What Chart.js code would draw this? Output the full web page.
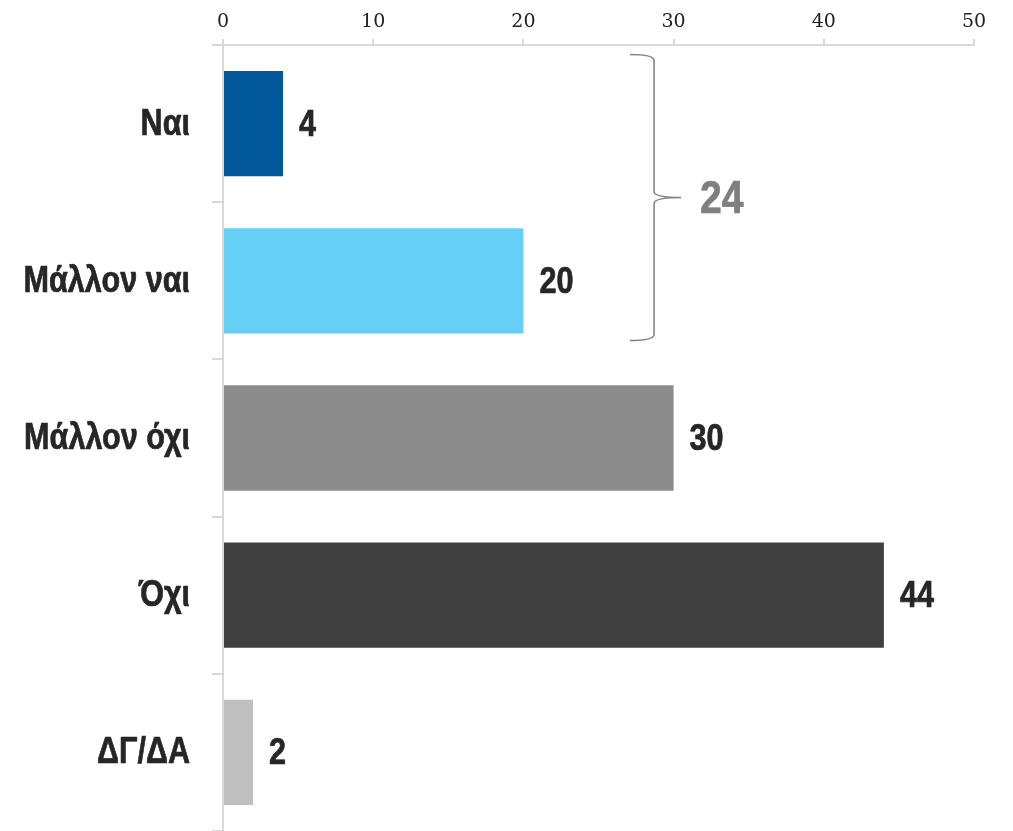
<!DOCTYPE html>
<html>
<head>
<meta charset="utf-8">
<script src="https://cdn.jsdelivr.net/npm/chart.js@4.4.1/dist/chart.umd.min.js"></script>
<style>
html,body{margin:0;padding:0;background:#fff;}
#wrap{width:1013px;height:831px;position:relative;}
</style>
</head>
<body>
<div id="wrap"><canvas id="c" width="1013" height="831"></canvas></div>
<script>
const categories = ["Ναι", "Μάλλον ναι", "Μάλλον όχι", "Όχι", "ΔΓ/ΔΑ"];
const values = [4, 20, 30, 44, 2];
const barColors = ["#00589B", "#66CFF5", "#8C8C8C", "#404040", "#BFBFBF"];
const xTicks = [0, 10, 20, 30, 40, 50];
const bracketGroup = [0, 1];
const bracketTotal = bracketGroup.reduce((s, i) => s + values[i], 0);

const SANS = '"Liberation Sans", Arial, sans-serif';
const NARROW_SCALE = 0.85;

function narrowText(ctx, text, x, y, align, font, color) {
  ctx.save();
  ctx.font = font;
  ctx.fillStyle = color;
  ctx.strokeStyle = color;
  ctx.lineWidth = 0.7;
  ctx.lineJoin = 'round';
  ctx.textBaseline = 'middle';
  ctx.textAlign = align;
  ctx.translate(x, y);
  ctx.scale(NARROW_SCALE, 1);
  ctx.fillText(text, 0, 0);
  ctx.strokeText(text, 0, 0);
  ctx.restore();
}

const categoryLabels = {
  id: 'categoryLabels',
  afterDraw(chart) {
    const ctx = chart.ctx;
    const ys = chart.scales.y;
    const right = ys.right - 11 - 22;
    categories.forEach((c, i) => {
      narrowText(ctx, c, right, ys.getPixelForValue(i) + 1, 'right', 'bold 36px ' + SANS, '#262626');
    });
  }
};

const valueLabels = {
  id: 'valueLabels',
  afterDatasetsDraw(chart) {
    const ctx = chart.ctx;
    const meta = chart.getDatasetMeta(0);
    meta.data.forEach((bar, i) => {
      narrowText(ctx, String(values[i]), bar.x + 16, bar.y + 2, 'left', 'bold 36px ' + SANS, '#262626');
    });
  }
};

const bracket = {
  id: 'bracket',
  afterDatasetsDraw(chart) {
    const ctx = chart.ctx;
    const xs = chart.scales.x, ys = chart.scales.y;
    const band = ys.getPixelForValue(1) - ys.getPixelForValue(0);
    const top = ys.getPixelForValue(bracketGroup[0]) - band * 0.44;
    const bot = ys.getPixelForValue(bracketGroup[1]) + band * 0.38;
    const mid = (top + bot) / 2;
    const x0 = xs.getPixelForValue(27.1);
    const x1 = xs.getPixelForValue(28.7);
    const xt = xs.getPixelForValue(30.5);
    ctx.save();
    ctx.strokeStyle = '#7F7F7F';
    ctx.lineWidth = 1.5;
    ctx.beginPath();
    ctx.moveTo(x0, top);
    ctx.quadraticCurveTo(x1, top, x1, top + 6);
    ctx.lineTo(x1, mid - 6);
    ctx.quadraticCurveTo(x1, mid, xt, mid);
    ctx.quadraticCurveTo(x1, mid, x1, mid + 6);
    ctx.lineTo(x1, bot - 6);
    ctx.quadraticCurveTo(x1, bot, x0, bot);
    ctx.stroke();
    ctx.restore();
    narrowText(ctx, String(bracketTotal), xs.getPixelForValue(33.2), mid + 3, 'center', 'bold 46px ' + SANS, '#7F7F7F');
  }
};

new Chart(document.getElementById('c'), {
  type: 'bar',
  data: {
    labels: categories,
    datasets: [{
      data: values,
      backgroundColor: barColors,
      borderWidth: 0,
      categoryPercentage: 1,
      barPercentage: 0.67
    }]
  },
  options: {
    indexAxis: 'y',
    responsive: false,
    animation: false,
    layout: { padding: { top: 0, right: 39, bottom: 0, left: 0 } },
    plugins: { legend: { display: false }, tooltip: { enabled: false } },
    scales: {
      x: {
        position: 'top',
        min: 0, max: 50,
        afterBuildTicks(s) { s.ticks = xTicks.map(v => ({ value: v })); },
        afterFit(s) { s.height = 45; },
        ticks: {
          font: { family: '"DejaVu Serif", "Liberation Serif", serif', size: 19 },
          color: '#222',
          padding: 6,
          maxRotation: 0
        },
        grid: { drawOnChartArea: false, tickLength: 6, color: '#D9D9D9', lineWidth: 2 },
        border: { color: '#D9D9D9', width: 2 }
      },
      y: {
        afterFit(s) { s.width = 223; },
        ticks: { display: false },
        grid: { drawOnChartArea: false, offset: true, tickLength: 11, color: '#D9D9D9', lineWidth: 2 },
        border: { color: '#D9D9D9', width: 2 }
      }
    }
  },
  plugins: [valueLabels, bracket, categoryLabels]
});
</script>
</body>
</html>
